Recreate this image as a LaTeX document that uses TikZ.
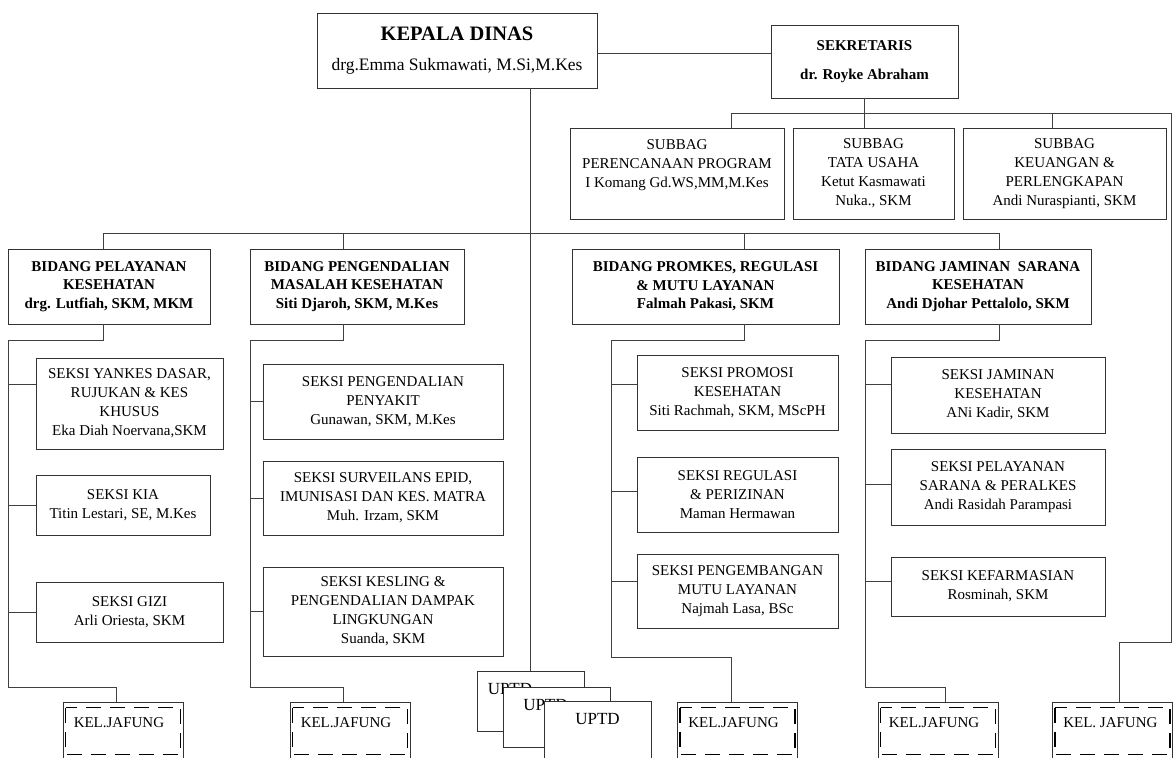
\documentclass[tikz,border=0pt]{standalone}
\usepackage{fontspec}
\setmainfont{Liberation Serif}
\usetikzlibrary{calc}
\tikzset{
    unit/.style={draw=black!80, line width=0.9pt, fill=white, align=center, inner sep=0pt, font=\fontsize{15}{19}\selectfont},
    head/.style={unit, font=\bfseries\fontsize{15}{18.5}\selectfont},
    jafung/.style={draw=black!80, line width=0.9pt, fill=white, minimum width=120, minimum height=66, inner sep=0pt},
    jafdash/.style={line width=1.8pt, dash pattern=on 15pt off 9pt},
    jaftext/.style={inner sep=0pt, font=\fontsize{15}{18}\selectfont},
    uptd/.style={draw=black!80, line width=0.9pt, fill=white, minimum width=107, minimum height=60, inner sep=0pt},
    uptdtext/.style={inner sep=0pt, font=\fontsize{17}{20}\selectfont},
    link/.style={draw=black!75, line width=0.9pt},
    common settings/.style={x=1pt, y=-1pt}
}

\begin{document}
\begin{tikzpicture}[common settings]
    \clip (0,0) rectangle (1174,757);

    % Pimpinan
    \node[unit, minimum width=280, minimum height=75, font=\fontsize{17.5}{30}\selectfont] (kadis) at (457,50.5)
        {{\bfseries\fontsize{20.5}{30}\selectfont KEPALA DINAS}\\drg.Emma Sukmawati, M.Si,M.Kes};
    \node[head, minimum width=187, minimum height=73, font=\bfseries\fontsize{15}{29}\selectfont] (sek) at (864.5,61.5)
        {SEKRETARIS\\dr. Royke Abraham};
    \draw[link] (kadis.east |- 0,53) -- (sek.west |- 0,53);

    % Subbag
    \node[unit, minimum width=214, minimum height=91] (sb1) at (677,173.5) {SUBBAG\\PERENCANAAN PROGRAM\\I Komang Gd.WS,MM,M.Kes\\\mbox{}};
    \node[unit, minimum width=161, minimum height=91] (sb2) at (873.5,173.5) {SUBBAG\\TATA USAHA\\Ketut Kasmawati\\Nuka., SKM};
    \node[unit, minimum width=203, minimum height=91] (sb3) at (1064.5,173.5) {SUBBAG\\KEUANGAN \&\\PERLENGKAPAN\\Andi Nuraspianti, SKM};
    \coordinate (s1) at (731,113);
    \coordinate (s3) at (1052,113);
    \coordinate (s4) at (1171,113);
    \draw[link] (sek.south) -- (sek.south |- s1);
    \draw[link] (s1) -- (s4);
    \draw[link] (s1) -- (s1 |- sb1.north);
    \draw[link] (sek.south |- s1) -- (sek.south |- sb2.north);
    \draw[link] (s3) -- (s3 |- sb3.north);

    % Bidang
    \node[head, minimum width=202, minimum height=75] (bd1) at (109,286.5) {BIDANG PELAYANAN\\KESEHATAN\\drg. Lutfiah, SKM, MKM};
    \node[head, minimum width=214, minimum height=75] (bd2) at (357,286.5) {BIDANG PENGENDALIAN\\MASALAH KESEHATAN\\Siti Djaroh, SKM, M.Kes};
    \node[head, minimum width=267, minimum height=75] (bd3) at (705.5,286.5) {BIDANG PROMKES, REGULASI\\\& MUTU LAYANAN\\Falmah Pakasi, SKM};
    \node[head, minimum width=226, minimum height=75] (bd4) at (978,286.5) {BIDANG JAMINAN\ \ SARANA\\KESEHATAN\\Andi Djohar Pettalolo, SKM};
    \coordinate (t1) at (103,233);
    \coordinate (t2) at (343,233);
    \coordinate (t3) at (744,233);
    \coordinate (t4) at (999,233);
    \draw[link] (t1) -- (t4);
    \draw[link] (t1) -- (t1 |- bd1.north);
    \draw[link] (t2) -- (t2 |- bd2.north);
    \draw[link] (t3) -- (t3 |- bd3.north);
    \draw[link] (t4) -- (t4 |- bd4.north);

    % Seksi
    \node[unit, minimum width=187, minimum height=91] (sy1) at (129.5,403.5) {SEKSI YANKES DASAR,\\RUJUKAN \& KES\\KHUSUS\\Eka Diah Noervana,SKM};
    \node[unit, minimum width=174, minimum height=60] (sy2) at (123,505) {SEKSI KIA\\Titin Lestari, SE, M.Kes};
    \node[unit, minimum width=187, minimum height=60] (sy3) at (129.5,612) {SEKSI GIZI\\Arli Oriesta, SKM};

    \node[unit, minimum width=240, minimum height=75] (pp1) at (383,401.5) {SEKSI PENGENDALIAN\\PENYAKIT\\Gunawan, SKM, M.Kes};
    \node[unit, minimum width=240, minimum height=74] (pp2) at (383,498) {SEKSI SURVEILANS EPID,\\IMUNISASI DAN KES. MATRA\\Muh. Irzam, SKM};
    \node[unit, minimum width=240, minimum height=89] (pp3) at (383,611.5) {SEKSI KESLING \&\\PENGENDALIAN DAMPAK\\LINGKUNGAN\\Suanda, SKM};

    \node[unit, minimum width=201, minimum height=75] (pr1) at (737.5,392.5) {SEKSI PROMOSI\\KESEHATAN\\Siti Rachmah, SKM, MScPH};
    \node[unit, minimum width=201, minimum height=75] (pr2) at (737.5,494.5) {SEKSI REGULASI\\\& PERIZINAN\\Maman Hermawan};
    \node[unit, minimum width=201, minimum height=74] (pr3) at (737.5,591) {SEKSI PENGEMBANGAN\\MUTU LAYANAN\\Najmah Lasa, BSc};

    \node[unit, minimum width=214, minimum height=76] (jm1) at (998,395) {SEKSI JAMINAN\\KESEHATAN\\ANi Kadir, SKM};
    \node[unit, minimum width=214, minimum height=76] (jm2) at (998,487) {SEKSI PELAYANAN\\SARANA \& PERALKES\\Andi Rasidah Parampasi};
    \node[unit, minimum width=214, minimum height=59] (jm3) at (998,586.5) {SEKSI KEFARMASIAN\\Rosminah, SKM};

    % Kelompok jabatan fungsional
    \node[jafung] (kel1) at (123,735) {};
    \node[jafung] (kel2) at (350,735) {};
    \node[jafung] (kel3) at (737.5,735) {};
    \node[jafung] (kel4) at (938,735) {};
    \node[jafung] (kel5) at (1112.5,735) {};
    \foreach \k/\t in {kel1/KEL.JAFUNG, kel2/KEL.JAFUNG, kel3/KEL.JAFUNG, kel4/KEL.JAFUNG, kel5/KEL. JAFUNG}{
        \draw[jafdash] ([shift={(3,6)}]\k.north west) rectangle ([shift={(-3,53)}]\k.north east);
        \node[jaftext, anchor=base west] at ([shift={(11,26)}]\k.north west) {\t};
    }

    % Garis bidang ke seksi dan kelompok
    \coordinate (b1) at (103,340);
    \coordinate (sp1) at (8,340);
    \coordinate (j1) at (116,687);
    \draw[link] (b1 |- bd1.south) -- (b1) -- (sp1) |- (j1) -- (j1 |- kel1.north);
    \draw[link] (sp1 |- 0,384) -- (sy1.west |- 0,384);
    \draw[link] (sy2.west -| sp1) -- (sy2.west);
    \draw[link] (sy3.west -| sp1) -- (sy3.west);

    \coordinate (b2) at (343,340);
    \coordinate (sp2) at (250,340);
    \coordinate (j2) at (343,687);
    \draw[link] (b2 |- bd2.south) -- (b2) -- (sp2) |- (j2) -- (j2 |- kel2.north);
    \draw[link] (pp1.west -| sp2) -- (pp1.west);
    \draw[link] (pp2.west -| sp2) -- (pp2.west);
    \draw[link] (pp3.west -| sp2) -- (pp3.west);

    \coordinate (b3) at (744,340);
    \coordinate (sp3) at (611,340);
    \coordinate (j3) at (731,657);
    \draw[link] (b3 |- bd3.south) -- (b3) -- (sp3) |- (j3) -- (j3 |- kel3.north);
    \draw[link] (sp3 |- 0,384) -- (pr1.west |- 0,384);
    \draw[link] (sp3 |- 0,491) -- (pr2.west |- 0,491);
    \draw[link] (sp3 |- 0,581) -- (pr3.west |- 0,581);

    \coordinate (b4) at (999,340);
    \coordinate (sp4) at (865,340);
    \coordinate (j4) at (945,687);
    \draw[link] (b4 |- bd4.south) -- (b4) -- (sp4) |- (j4) -- (j4 |- kel4.north);
    \draw[link] (sp4 |- 0,384) -- (jm1.west |- 0,384);
    \draw[link] (sp4 |- 0,484) -- (jm2.west |- 0,484);
    \draw[link] (sp4 |- 0,581) -- (jm3.west |- 0,581);

    \coordinate (r1) at (1119,642);
    \draw[link] (s4) |- (r1) -- (r1 |- kel5.north);

    % UPTD
    \node[uptd] (u1) at (530.5,701) {};
    \draw[link] (kadis.south -| u1.north) -- (u1.north);
    \node[uptdtext, anchor=base west] at ([shift={(11,24)}]u1.north west) {UPTD};
    \node[uptd] (u2) at (557,717) {};
    \node[uptdtext, anchor=base west] at ([shift={(20,24)}]u2.north west) {UPTD};
    \node[uptd] (u3) at (597.5,731) {};
    \node[uptdtext, anchor=base] at ([shift={(0,24)}]u3.north) {UPTD};
\end{tikzpicture}
\end{document}
